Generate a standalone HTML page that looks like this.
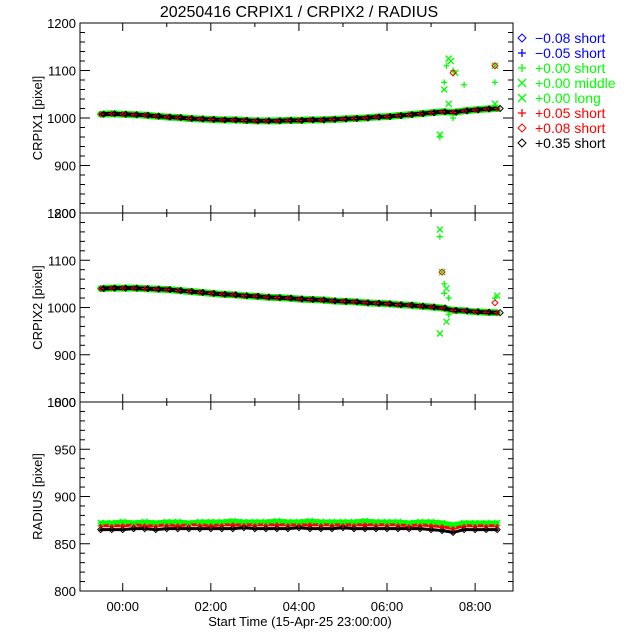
<!DOCTYPE html>
<html><head><meta charset="utf-8"><style>
body{margin:0;background:#fff}
svg{display:block;font-family:"Liberation Sans","DejaVu Sans",sans-serif}
</style></head><body>
<svg id="c" width="640" height="640">
<text x="299" y="17" font-size="16" text-anchor="middle">20250416 CRPIX1 / CRPIX2 / RADIUS</text>
<text x="300" y="626" font-size="13" text-anchor="middle">Start Time (15-Apr-25 23:00:00)</text>
</svg>
<script>
const times=[-0.5,-0.25,0,0.25,0.5,0.75,1,1.25,1.5,1.75,2,2.25,2.5,2.75,3,3.25,3.5,3.75,4,4.25,4.5,4.75,5,5.25,5.5,5.75,6,6.25,6.5,6.75,7,7.25,7.5,7.75,8,8.25,8.5];
const crpix1=[1008,1009,1008,1007,1006,1004,1002,1001,999,998,997,996,996,995,994,994,994,995,995,996,996,997,998,999,1000,1002,1003,1005,1007,1009,1011,1013,1012,1015,1017,1019,1020];
const crpix2=[1040,1041,1041,1041,1040,1039,1038,1036,1034,1032,1030,1028,1027,1025,1024,1022,1021,1020,1018,1017,1016,1014,1013,1012,1010,1009,1008,1006,1005,1003,1001,999,994,993,991,990,989];
const radiusGreen=[872,872,873,872,873,872,873,873,872,873,873,873,874,873,873,873,874,873,873,874,873,873,873,873,874,873,873,873,872,873,873,872,870,872,872,872,872];
const radiusRed=[869,869,869,870,869,869,870,869,870,870,869,870,870,870,870,870,870,870,870,870,870,870,870,870,870,870,870,870,869,870,869,868,866,869,869,869,869];
const radiusBlack=[865,865,865,866,866,865,866,866,866,866,866,866,866,867,866,866,866,866,867,866,866,866,867,866,866,866,866,866,866,866,865,864,862,865,865,865,865];
const out1T=[7.2,7.2,7.3,7.3,7.45,7.5,7.55,7.75,7.4,7.5,8.45,8.45,8.45,7.35,7.4];
const out1V=[965,960,1060,1075,1120,1100,1095,1070,1030,1000,1110,1075,1030,1110,1125];
const out2T=[7.2,7.2,7.25,7.3,7.35,7.4,7.35,7.4,7.2,8.45,8.5,7.3];
const out2V=[1165,1150,1075,1050,1040,1020,970,985,945,1020,1025,1030];
const xTicks=[0,2,4,6,8];
const xTickLabels=["00:00","02:00","04:00","06:00","08:00"];
const legendLabels=["\u22120.08 short","\u22120.05 short","+0.00 short","+0.00 middle","+0.00 long","+0.05 short","+0.08 short","+0.35 short"];
const legendColors=["#0000ff","#0000ff","#00ff00","#00ff00","#00ff00","#ff0000","#ff0000","#000000"];
const legendSyms=["d","+","+","x","x","+","d","d"];

const svg=document.getElementById('c');const NS='http://www.w3.org/2000/svg';
function el(t,a,p){const e=document.createElementNS(NS,t);for(const k in a)e.setAttribute(k,a[k]);(p||svg).appendChild(e);return e;}
const X0=80,X1=513,T0=-0.97,T1=8.86;
const xs=t=>X0+(t-T0)/(T1-T0)*(X1-X0);
const panels=[
 {top:23,bot:213,min:800,max:1200,step:100,minor:20,lab:"CRPIX1 [pixel]",name:"crpix1"},
 {top:213,bot:402,min:800,max:1200,step:100,minor:20,lab:"CRPIX2 [pixel]",name:"crpix2"},
 {top:402,bot:591,min:800,max:1000,step:50,minor:10,lab:"RADIUS [pixel]",name:"radius"}];
function sym(g,s,x,y,c,r){r=r||3;
 if(s==='d'){return el('path',{d:`M${x} ${y-r}L${x+r} ${y}L${x} ${y+r}L${x-r} ${y}Z`,fill:'none',stroke:c,'stroke-width':1},g);}
 if(s==='+'){return el('path',{d:`M${x-r} ${y}H${x+r}M${x} ${y-r}V${y+r}`,stroke:c,'stroke-width':1.3},g);}
 return el('path',{d:`M${x-r} ${y-r}L${x+r} ${y+r}M${x+r} ${y-r}L${x-r} ${y+r}`,stroke:c,'stroke-width':1.3},g);
}
function band(g,ys,vals,c,w){
 let d='';times.forEach((t,i)=>{d+=(i?'L':'M')+xs(t).toFixed(1)+' '+ys(vals[i]).toFixed(1);});
 return el('path',{d,fill:'none',stroke:c,'stroke-width':w,'stroke-linejoin':'round','stroke-linecap':'round'},g);
}
panels.forEach(P=>{
 const ys=v=>P.bot-(v-P.min)/(P.max-P.min)*(P.bot-P.top);
 const g=el('g',{});
 
 
 const fr=el('rect',{x:X0,y:P.top,width:X1-X0,height:P.bot-P.top,fill:'none',stroke:'#000','stroke-width':1},g);
 
 
 for(let v=P.min;v<=P.max;v+=P.minor){const y=ys(v);const big=(v-P.min)%P.step===0;
  el('line',{x1:X0,x2:X0+(big?10:5),y1:y,y2:y,stroke:'#000'},g);el('line',{x1:X1,x2:X1-(big?10:5),y1:y,y2:y,stroke:'#000'},g);
  if(big){const t=el('text',{x:X0-4,y:y+5,'font-size':13,'text-anchor':'end'},g);t.textContent=v;
   
   }}
 for(let h=0;h<=8;h+=1){const x=xs(h);const big=h%2===0;
  el('line',{x1:x,x2:x,y1:P.bot,y2:P.bot-(big?8:4),stroke:'#000'},g);el('line',{x1:x,x2:x,y1:P.top,y2:P.top+(big?8:4),stroke:'#000'},g);}
 const yl=el('text',{x:0,y:0,'font-size':13,'text-anchor':'middle',transform:`translate(42,${(P.top+P.bot)/2}) rotate(-90)`},g);
 yl.textContent=P.lab;
 
 
 if(P.name==='radius'){
  band(g,ys,radiusGreen,'#00ff00',5);band(g,ys,radiusRed,'#ff0000',3);band(g,ys,radiusBlack,'#000',3);
  times.forEach((t,i)=>{sym(g,'d',xs(t),ys(radiusBlack[i]),'#000');sym(g,'+',xs(t),ys(radiusRed[i]),'#ff0000');sym(g,'x',xs(t),ys(radiusGreen[i]),'#00ff00');});
 } else {
  const vals=P.name==='crpix1'?crpix1:crpix2;
  const oT=P.name==='crpix1'?out1T:out2T,oV=P.name==='crpix1'?out1V:out2V;
  band(g,ys,vals,'#00ff00',7);band(g,ys,vals,'#000',4);
  times.forEach((t,i)=>{sym(g,'+',xs(t),ys(vals[i]),'#ff0000');sym(g,'d',xs(t)+3,ys(vals[i]),'#000');});
  oT.forEach((t,i)=>{const m=sym(g,i%2?'+':'x',xs(t),ys(oV[i]),'#00ff00');});
  const r=P.name==='crpix1'?[[7.5,1095],[8.45,1110]]:[[7.25,1075],[8.45,1010]];
  r.forEach(p=>sym(g,'d',xs(p[0]),ys(p[1]),'#ff0000'));
 }
 if(P.name==='radius'){xTicks.forEach((h,i)=>{const t=el('text',{x:xs(h),y:611,'font-size':13,'text-anchor':'middle'},g);t.textContent=xTickLabels[i];
  
  });}
});
const lg=el('g',{});


legendLabels.forEach((s,i)=>{const y=38+i*15;
 const g=el('g',{},lg);
 
 
 sym(g,legendSyms[i],522,y,legendColors[i],4);
 const t=el('text',{x:535,y:y+5,'font-size':14,fill:legendColors[i]},g);t.textContent=s;});
</script>
</body></html>
